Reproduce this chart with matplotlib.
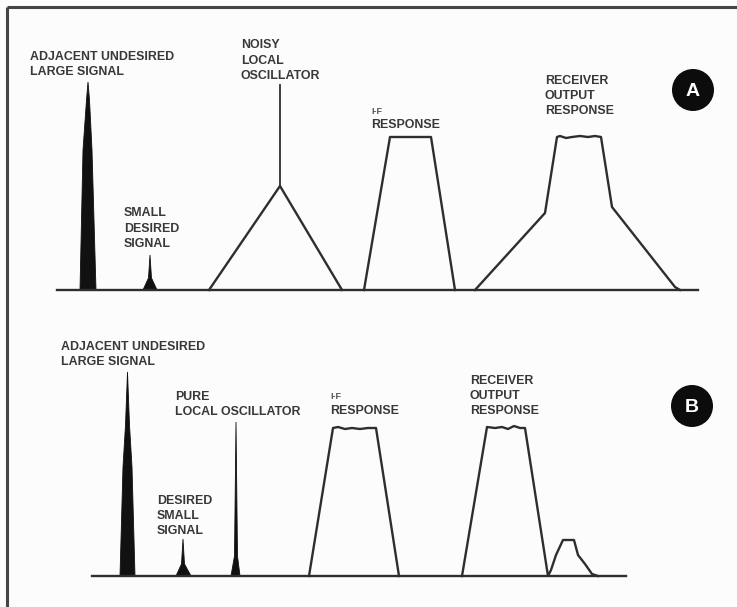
import matplotlib
matplotlib.use("Agg")
import matplotlib.pyplot as plt
from matplotlib.patches import Polygon, Circle

INK = "#2e2e2e"
TXT = "#383838"

# ---------------- Panel A ----------------
a_base_y = 290
a_base_x = [57, 698]
a_large_x = [80, 83, 86.5, 88, 89.5, 92, 96]
a_large_y = [290, 150, 100, 82, 100, 150, 290]
a_small_x = [143, 148.5, 150, 151.5, 157]
a_small_y = [290, 278, 255, 278, 290]
a_lo_x = [209, 280, 342]
a_lo_y = [290, 186, 290]
a_lo_stem_y = [186, 85]
a_if_x = [364, 390, 431, 455]
a_if_y = [290, 137, 137, 290]
a_rx_x = [475, 545, 557, 560, 566, 572, 580, 588, 595, 601, 612, 675, 680]
a_rx_y = [290, 213, 137, 136, 138, 137, 136, 137, 136, 137, 207, 287, 290]

# ---------------- Panel B ----------------
b_base_y = 576
b_base_x = [92, 626]
b_large_x = [120, 123, 125.5, 127.5, 129.5, 132, 135]
b_large_y = [576, 467, 425, 372, 425, 467, 576]
b_small_x = [176, 181.5, 183, 184.5, 191]
b_small_y = [576, 564, 539, 564, 576]
b_lo_x = [231, 234.5, 236, 237.5, 240]
b_lo_y = [576, 556, 422, 556, 576]
b_if_x = [309, 333, 338, 345, 352, 360, 368, 376, 399]
b_if_y = [576, 428, 427, 429, 428, 429, 428, 428, 576]
b_rx_x = [462, 487, 495, 502, 508, 514, 520, 525, 548, 551, 556, 563, 574, 578, 585, 592, 598]
b_rx_y = [576, 427, 428, 427, 429, 426, 428, 428, 576, 570, 555, 540, 540, 555, 564, 574, 576]

# labels: text, x, cap-top y
labels = [
    ("ADJACENT UNDESIRED\nLARGE SIGNAL", 30, 53),
    ("SMALL\nDESIRED\nSIGNAL", 124, 210),
    ("NOISY\nLOCAL\nOSCILLATOR", 241, 42),
    ("RESPONSE", 371, 122),
    ("RECEIVER\nOUTPUT\nRESPONSE", 545, 77),
    ("ADJACENT UNDESIRED\nLARGE SIGNAL", 61, 343),
    ("PURE\nLOCAL OSCILLATOR", 175, 393),
    ("RESPONSE", 330, 408),
    ("DESIRED\nSMALL\nSIGNAL", 157, 497),
    ("RECEIVER\nOUTPUT\nRESPONSE", 470, 377),
]
if_marks = [("I-F", 371, 109), ("I-F", 330, 394)]
badges = [("A", 693, 90), ("B", 692, 406)]

fig = plt.figure(figsize=(7.37, 6.07), dpi=100, facecolor="#fcfcfc")
ax = fig.add_axes([0, 0, 1, 1])
ax.set_xlim(0, 737)
ax.set_ylim(607, 0)
ax.axis("off")
ax.set_facecolor("#fcfcfc")

# frame
ax.plot([7, 737], [7, 7], color="#444444", lw=2.2, solid_capstyle="butt")
ax.plot([7, 7], [7, 607], color="#444444", lw=2.2, solid_capstyle="butt")

lw = 1.7
# baselines
ax.plot(a_base_x, [a_base_y] * 2, color=INK, lw=lw)
ax.plot(b_base_x, [b_base_y] * 2, color=INK, lw=lw)

# filled spikes
for xs, ys in [(a_large_x, a_large_y), (a_small_x, a_small_y),
               (b_large_x, b_large_y), (b_small_x, b_small_y), (b_lo_x, b_lo_y)]:
    ax.add_patch(Polygon(list(zip(xs, ys)), closed=True, facecolor="#111111",
                         edgecolor="#111111", lw=0.6))

# stem of noisy LO
ax.plot([a_lo_x[1]] * 2, a_lo_stem_y, color=INK, lw=1.3)

# outline shapes
for xs, ys in [(a_lo_x, a_lo_y), (a_if_x, a_if_y), (a_rx_x, a_rx_y),
               (b_if_x, b_if_y), (b_rx_x, b_rx_y)]:
    ax.plot(xs, ys, color=INK, lw=lw, solid_joinstyle="round")

fam = ["Liberation Sans", "DejaVu Sans"]
for t, x, y in labels:
    ax.text(x, y - 2.5, t, ha="left", va="top", fontsize=8.9, fontweight="bold",
            color=TXT, family=fam, linespacing=1.38)
for t, x, y in if_marks:
    ax.text(x, y - 2, t, ha="left", va="top", fontsize=6.5, fontweight="bold",
            color="#555555", family=fam)

for t, x, y in badges:
    ax.add_patch(Circle((x, y), 21, facecolor="#0c0c0c", edgecolor="none"))
    ax.text(x, y + 1, t, ha="center", va="center", fontsize=14, fontweight="bold",
            color="white", family=fam)

fig.savefig("out.png", dpi=100, facecolor=fig.get_facecolor())
